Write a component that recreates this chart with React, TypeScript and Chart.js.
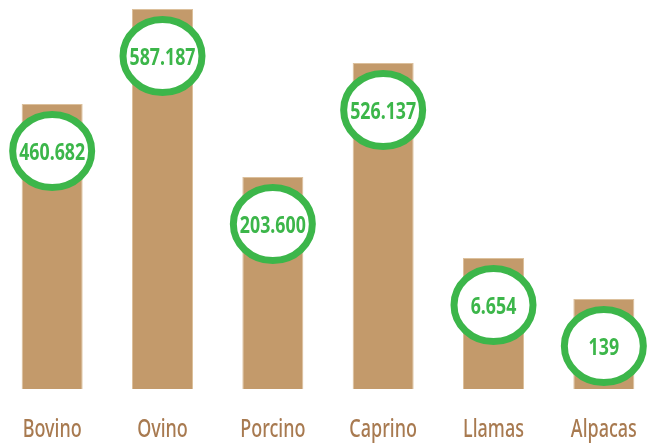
import React, { useEffect, useRef } from "react";
import { Chart, registerables } from "chart.js";

Chart.register(...registerables);

const categories = ["Bovino", "Ovino", "Porcino", "Caprino", "Llamas", "Alpacas"];
const valueLabels = ["460.682", "587.187", "203.600", "526.137", "6.654", "139"];
// visual bar heights as drawn in the reference
const barHeights = [285, 380, 212, 326, 131, 90];

const BAR_COLOR = "#c39a6b";
const BAR_EDGE = "#dcc09c";
const GREEN = "#3cb64a";
const TICK_COLOR = "#a87a50";
const FONT = "'Noto Sans', 'Open Sans', sans-serif";

function drawCondensed(ctx: CanvasRenderingContext2D, text: string, x: number, y: number, sx: number) {
  ctx.save();
  ctx.translate(x, y);
  ctx.scale(sx, 1);
  ctx.fillText(text, 0, 0);
  ctx.restore();
}

const bubblePlugin = {
  id: "bubbles",
  afterDatasetsDraw(chart: any) {
    const { ctx } = chart;
    const meta = chart.getDatasetMeta(0);
    meta.data.forEach((bar: any, i: number) => {
      const cx = bar.x;
      const cy = bar.y + 47;
      ctx.save();
      ctx.beginPath();
      ctx.ellipse(cx, cy, 39.5, 36.5, 0, 0, Math.PI * 2);
      ctx.fillStyle = "#ffffff";
      ctx.fill();
      ctx.lineWidth = 7;
      ctx.strokeStyle = GREEN;
      ctx.stroke();
      ctx.fillStyle = GREEN;
      ctx.font = `bold 24px ${FONT}`;
      ctx.textAlign = "center";
      ctx.textBaseline = "alphabetic";
      drawCondensed(ctx, valueLabels[i], cx, cy + 8.5, 0.74);
      ctx.restore();
    });
  },
  afterDraw(chart: any) {
    const { ctx } = chart;
    const xs = chart.scales.x;
    ctx.save();
    ctx.fillStyle = TICK_COLOR;
    ctx.font = `500 25px ${FONT}`;
    ctx.textAlign = "center";
    ctx.textBaseline = "alphabetic";
    categories.forEach((c, i) => {
      drawCondensed(ctx, c, xs.getPixelForTick(i), 437, 0.72);
    });
    ctx.restore();
  },
};

export default function App() {
  const ref = useRef<HTMLCanvasElement | null>(null);
  useEffect(() => {
    if (!ref.current) return;
    const chart = new Chart(ref.current, {
      type: "bar",
      data: {
        labels: categories,
        datasets: [
          {
            data: barHeights,
            backgroundColor: BAR_COLOR,
            borderColor: BAR_EDGE,
            borderWidth: 1,
            barPercentage: 0.553,
            categoryPercentage: 1,
          },
        ],
      },
      options: {
        animation: false,
        responsive: false,
        maintainAspectRatio: false,
        layout: { padding: { top: 0, left: 0, right: 0, bottom: 54 } },
        plugins: { legend: { display: false }, tooltip: { enabled: false } },
        scales: {
          x: {
            display: false,
            offset: true,
          },
          y: {
            display: false,
            min: 0,
            max: 389,
          },
        },
      },
      plugins: [bubblePlugin],
    });
    return () => chart.destroy();
  }, []);
  return (
    <div style={{ position: "fixed", left: -3, top: 0, width: 662, height: 443, background: "#fff" }}>
      <canvas ref={ref} width={662} height={443} style={{ width: 662, height: 443, display: "block" }} />
    </div>
  );
}
